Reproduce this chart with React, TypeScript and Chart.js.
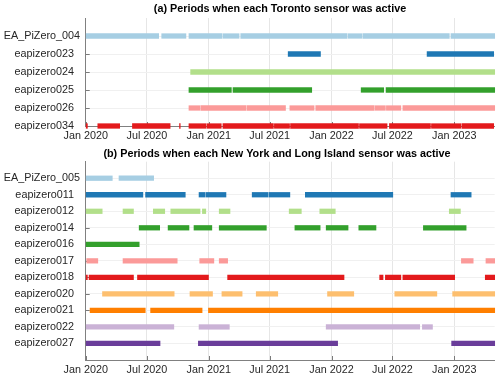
import React, { useEffect, useRef } from "react";
import { Chart, registerables } from "chart.js";

Chart.register(...registerables);

// ---------- DATA ----------
const xStart = "2020-01-01";
const xEnd = "2023-05-01";
const tickDates = ["2020-01-01", "2020-07-01", "2021-01-01", "2021-07-01", "2022-01-01", "2022-07-01", "2023-01-01"];
const tickLabels = ["Jan 2020", "Jul 2020", "Jan 2021", "Jul 2021", "Jan 2022", "Jul 2022", "Jan 2023"];

const titleA = "(a) Periods when each Toronto sensor was active";
const titleB = "(b) Periods when each New York and Long Island sensor was active";

// Toronto sensors
const torontoNames = ["EA_PiZero_004", "eapizero023", "eapizero024", "eapizero025", "eapizero026", "eapizero034"];
const torontoColors = ["#a6cee3", "#1f78b4", "#b2df8a", "#33a02c", "#fb9a99", "#e31a1c"];

const ea004: [string, string][] = [
  ["2020-01-01", "2020-08-05"], ["2020-08-14", "2020-10-25"], ["2020-11-03", "2021-02-09"],
  ["2021-02-12", "2021-04-01"], ["2021-04-06", "2022-02-16"], ["2022-02-19", "2022-04-01"],
  ["2022-04-04", "2022-12-17"], ["2022-12-22", "2023-05-01"],
];
const ez023: [string, string][] = [["2021-08-25", "2021-11-29"], ["2022-10-12", "2023-04-28"]];
const ez024: [string, string][] = [["2020-11-08", "2023-05-01"]];
const ez025: [string, string][] = [
  ["2020-11-03", "2021-03-09"], ["2021-03-14", "2021-11-03"], ["2022-03-30", "2022-06-05"], ["2022-06-12", "2023-05-01"],
];
const ez026: [string, string][] = [
  ["2020-11-03", "2020-12-05"], ["2020-12-08", "2021-04-21"], ["2021-04-24", "2021-08-17"], ["2021-08-30", "2021-11-10"],
  ["2021-11-15", "2022-05-08"], ["2022-05-11", "2022-06-10"], ["2022-06-13", "2022-07-26"], ["2022-08-01", "2023-05-01"],
];
const ez034: [string, string][] = [
  ["2020-01-01", "2020-01-06"], ["2020-02-06", "2020-04-11"], ["2020-05-19", "2020-09-08"], ["2020-10-06", "2020-10-08"],
  ["2020-11-03", "2020-12-23"], ["2020-12-26", "2021-02-07"], ["2021-02-12", "2021-07-12"], ["2021-07-15", "2021-08-29"],
  ["2021-09-01", "2022-03-22"], ["2022-03-25", "2022-06-15"], ["2022-06-22", "2022-10-22"], ["2022-10-25", "2023-01-21"],
  ["2023-01-24", "2023-04-28"],
];
const torontoSegments = [ea004, ez023, ez024, ez025, ez026, ez034];

// New York / Long Island sensors
const nyNames = ["EA_PiZero_005", "eapizero011", "eapizero012", "eapizero014", "eapizero016", "eapizero017",
  "eapizero018", "eapizero020", "eapizero021", "eapizero022", "eapizero027"];
const nyColors = ["#a6cee3", "#1f78b4", "#b2df8a", "#33a02c", "#33a02c", "#fb9a99", "#e31a1c", "#fdbf6f", "#ff7f00", "#cab2d6", "#6a3d9a"];

const ea005: [string, string][] = [["2020-01-01", "2020-03-20"], ["2020-04-09", "2020-07-21"]];
const ez011: [string, string][] = [
  ["2020-01-01", "2020-06-19"], ["2020-06-27", "2020-10-23"], ["2020-12-03", "2020-12-20"], ["2020-12-23", "2021-02-21"],
  ["2021-05-10", "2021-06-26"], ["2021-06-29", "2021-08-30"], ["2021-10-15", "2022-07-02"], ["2022-12-22", "2023-02-20"],
];
const ez012: [string, string][] = [
  ["2020-01-01", "2020-02-19"], ["2020-04-21", "2020-05-22"], ["2020-07-20", "2020-08-23"], ["2020-09-10", "2020-12-06"],
  ["2020-12-13", "2020-12-23"], ["2021-02-01", "2021-03-05"], ["2021-08-28", "2021-10-03"], ["2021-11-27", "2022-01-12"],
  ["2022-12-17", "2023-01-19"],
];
const ez014: [string, string][] = [
  ["2020-06-08", "2020-08-08"], ["2020-09-02", "2020-11-03"], ["2020-11-18", "2021-01-10"], ["2021-02-01", "2021-06-21"],
  ["2021-09-14", "2021-11-28"], ["2021-12-16", "2022-02-19"], ["2022-03-23", "2022-05-13"], ["2022-10-01", "2023-02-05"],
];
const ez016: [string, string][] = [["2020-01-01", "2020-06-08"]];
const ez017: [string, string][] = [
  ["2020-01-04", "2020-02-06"], ["2020-04-21", "2020-09-29"], ["2020-12-05", "2021-01-16"], ["2021-02-01", "2021-02-26"],
  ["2023-01-22", "2023-02-26"], ["2023-04-05", "2023-05-01"],
];
const ez018: [string, string][] = [
  ["2020-01-01", "2020-01-06"], ["2020-01-11", "2020-05-22"], ["2020-06-03", "2020-12-31"], ["2021-02-26", "2022-02-07"],
  ["2022-05-24", "2022-06-03"], ["2022-06-10", "2022-07-26"], ["2022-08-01", "2023-01-02"], ["2023-04-03", "2023-05-01"],
];
const ez020: [string, string][] = [
  ["2020-02-20", "2020-09-20"], ["2020-11-06", "2021-01-12"], ["2021-02-09", "2021-04-10"], ["2021-05-22", "2021-07-25"],
  ["2021-12-20", "2022-03-08"], ["2022-07-08", "2022-11-10"], ["2022-12-27", "2023-05-01"],
];
const ez021: [string, string][] = [["2020-01-14", "2020-06-26"], ["2020-07-12", "2020-12-12"], ["2020-12-31", "2023-05-01"]];
const ez022: [string, string][] = [
  ["2020-01-01", "2020-09-19"], ["2020-12-03", "2021-03-03"], ["2021-12-16", "2022-09-20"], ["2022-09-28", "2022-10-28"],
];
const ez027: [string, string][] = [["2020-01-01", "2020-08-09"], ["2020-12-01", "2022-01-19"], ["2022-12-24", "2023-05-01"]];
const nySegments = [ea005, ez011, ez012, ez014, ez016, ez017, ez018, ez020, ez021, ez022, ez027];

// ---------- HELPERS ----------
const FONT = "'Liberation Sans', Arial, Helvetica, sans-serif";
const dayOf = (s: string) => {
  const [y, m, d] = s.split("-").map(Number);
  const [y0, m0, d0] = xStart.split("-").map(Number);
  return (Date.UTC(y, m - 1, d) - Date.UTC(y0, m0 - 1, d0)) / 86400000;
};
const displayName = (n: string) => (n.startsWith("EA_") ? n : n + "  ");

const decorPlugin = {
  id: "panelDecor",
  beforeDatasetsDraw(chart: any) {
    const { ctx, chartArea } = chart;
    const xs = chart.scales.x;
    const ys = chart.scales.y;
    ctx.save();
    ctx.strokeStyle = "#7a7a7a";
    ctx.lineWidth = 1;
    ctx.beginPath();
    xs.ticks.forEach((t: any) => {
      const px = Math.round(xs.getPixelForValue(t.value)) + 0.5;
      ctx.moveTo(px, chartArea.bottom);
      ctx.lineTo(px, chartArea.bottom - 4);
    });
    ys.ticks.forEach((t: any) => {
      const py = Math.round(ys.getPixelForValue(t.value)) + 0.5;
      ctx.moveTo(chartArea.left, py);
      ctx.lineTo(chartArea.left + 4, py);
    });
    ctx.stroke();
    ctx.restore();
  },
  afterDraw(chart: any, _args: any, opts: any) {
    const { ctx } = chart;
    ctx.save();
    ctx.font = `bold 10.8px ${FONT}`;
    ctx.fillStyle = "#000000";
    ctx.textAlign = "center";
    ctx.textBaseline = "middle";
    ctx.fillText(opts.text, opts.x, opts.y);
    ctx.restore();
  },
};

function makeConfig(
  names: string[],
  colors: string[],
  segments: [string, string][][],
  title: { text: string; x: number; y: number },
  topPad: number,
  xAxisHeight: number,
  yMax: number
): any {
  const datasets = names.map((name, i) => ({
    label: name,
    data: segments[i].map(([s, e]) => ({ x: [dayOf(s), dayOf(e)], y: i + 1 })),
    backgroundColor: colors[i],
    borderWidth: 0,
    barThickness: 4.6,
    grouped: false,
    clip: false,
  }));
  return {
    type: "bar",
    data: { datasets },
    plugins: [decorPlugin],
    options: {
      indexAxis: "y",
      animation: false,
      responsive: false,
      maintainAspectRatio: false,
      devicePixelRatio: 1,
      layout: { padding: { left: 0, right: 5.3, top: topPad, bottom: 0 } },
      plugins: {
        legend: { display: false },
        tooltip: { enabled: false },
        title: { display: false },
        panelDecor: title,
      },
      scales: {
        x: {
          type: "linear",
          position: "bottom",
          offset: false,
          min: 0,
          max: dayOf(xEnd),
          afterBuildTicks: (s: any) => {
            s.ticks = tickDates.map((d) => ({ value: dayOf(d) }));
          },
          afterFit: (s: any) => {
            s.height = xAxisHeight;
            s.paddingLeft = 0;
            s.paddingRight = 0;
          },
          ticks: {
            autoSkip: false,
            maxRotation: 0,
            padding: 4,
            color: "#262626",
            font: { family: FONT, size: 10.8 },
            callback: (v: number) => {
              const idx = tickDates.findIndex((d) => dayOf(d) === v);
              return idx >= 0 ? tickLabels[idx] : "";
            },
          },
          grid: { color: "#e6e6e6", lineWidth: 1, drawTicks: false, offset: false },
          border: { color: "#808080", width: 1 },
        },
        y: {
          type: "linear",
          reverse: true,
          offset: false,
          min: 0,
          max: yMax,
          afterBuildTicks: (s: any) => {
            s.ticks = names.map((_n, i) => ({ value: i + 1 }));
          },
          afterFit: (s: any) => {
            s.width = 85.7;
            s.paddingTop = 0;
            s.paddingBottom = 0;
          },
          ticks: {
            autoSkip: false,
            padding: 5.7,
            color: "#262626",
            font: { family: FONT, size: 10.8 },
            callback: (v: number) => displayName(names[v - 1] ?? ""),
          },
          grid: { color: "#f0f0f0", lineWidth: 1, drawTicks: false, offset: false },
          border: { color: "#808080", width: 1 },
        },
      },
    },
  };
}

export default function App() {
  const refA = useRef<HTMLCanvasElement>(null);
  const refB = useRef<HTMLCanvasElement>(null);

  useEffect(() => {
    const chartA = new Chart(
      refA.current as HTMLCanvasElement,
      makeConfig(torontoNames, torontoColors, torontoSegments, { text: titleA, x: 280, y: 9.5 }, 18, 19, torontoNames.length)
    );
    const chartB = new Chart(
      refB.current as HTMLCanvasElement,
      makeConfig(nyNames, nyColors, nySegments, { text: titleB, x: 277, y: 9.5 }, 16.7, 21, nyNames.length + 1)
    );
    return () => {
      chartA.destroy();
      chartB.destroy();
    };
  }, []);

  return (
    <div style={{ position: "fixed", left: 0, top: 0, width: 500, height: 381, background: "#ffffff" }}>
      <canvas ref={refA} width={500} height={145} style={{ position: "absolute", left: 0, top: 0, width: 500, height: 145 }} />
      <canvas ref={refB} width={500} height={236} style={{ position: "absolute", left: 0, top: 145, width: 500, height: 236 }} />
    </div>
  );
}
